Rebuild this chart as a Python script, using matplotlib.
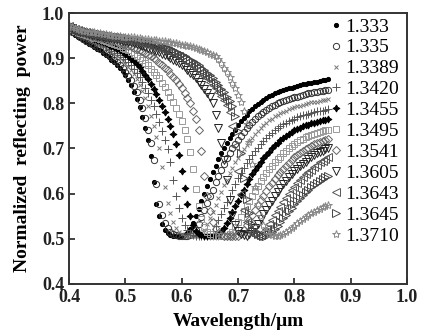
import matplotlib
matplotlib.use("Agg")
import matplotlib.pyplot as plt
import numpy as np

plt.rcParams['font.family'] = ['Liberation Serif', 'DejaVu Serif']

# wavelength grid of the measurement (um)
wavelength = np.round(np.arange(0.400, 0.8601, 0.005), 3)

labels = ['1.333', '1.335', '1.3389', '1.3420', '1.3455', '1.3495',
          '1.3541', '1.3605', '1.3643', '1.3645', '1.3710']

r_1333 = [0.962, 0.957, 0.952, 0.948, 0.944, 0.940, 0.936, 0.932, 0.929, 0.925,
          0.921, 0.917, 0.912, 0.907, 0.902, 0.897, 0.891, 0.885, 0.879, 0.871,
          0.862, 0.852, 0.840, 0.826, 0.810, 0.791, 0.770, 0.746, 0.718, 0.683,
          0.625, 0.578, 0.550, 0.532, 0.520, 0.513, 0.509, 0.507, 0.506, 0.506,
          0.507, 0.509, 0.513, 0.521, 0.535, 0.551, 0.567, 0.584, 0.600, 0.616,
          0.632, 0.647, 0.662, 0.676, 0.689, 0.701, 0.712, 0.723, 0.733, 0.742,
          0.751, 0.760, 0.768, 0.775, 0.782, 0.788, 0.794, 0.799, 0.804, 0.808,
          0.812, 0.816, 0.819, 0.822, 0.825, 0.827, 0.829, 0.831, 0.833, 0.835,
          0.837, 0.839, 0.840, 0.842, 0.843, 0.845, 0.846, 0.847, 0.848, 0.850,
          0.851, 0.852, 0.853]
r_1335 = [0.964, 0.959, 0.955, 0.951, 0.947, 0.943, 0.939, 0.936, 0.932, 0.929,
          0.925, 0.921, 0.917, 0.912, 0.907, 0.902, 0.897, 0.891, 0.885, 0.878,
          0.870, 0.861, 0.851, 0.839, 0.825, 0.808, 0.789, 0.767, 0.742, 0.713,
          0.675, 0.622, 0.578, 0.552, 0.535, 0.523, 0.515, 0.510, 0.508, 0.507,
          0.506, 0.506, 0.507, 0.509, 0.513, 0.520, 0.533, 0.548, 0.563, 0.579,
          0.594, 0.609, 0.625, 0.639, 0.653, 0.666, 0.678, 0.689, 0.700, 0.710,
          0.719, 0.728, 0.736, 0.745, 0.752, 0.759, 0.766, 0.771, 0.777, 0.781,
          0.786, 0.790, 0.794, 0.797, 0.800, 0.803, 0.806, 0.808, 0.810, 0.812,
          0.813, 0.815, 0.817, 0.819, 0.820, 0.822, 0.823, 0.825, 0.826, 0.827,
          0.828, 0.829, 0.830]
r_13389 = [0.965, 0.961, 0.957, 0.953, 0.950, 0.947, 0.944, 0.941, 0.938, 0.935,
           0.932, 0.929, 0.926, 0.922, 0.918, 0.914, 0.910, 0.905, 0.900, 0.894,
           0.888, 0.881, 0.873, 0.864, 0.853, 0.841, 0.827, 0.811, 0.793, 0.772,
           0.750, 0.725, 0.700, 0.660, 0.615, 0.580, 0.556, 0.538, 0.524, 0.515,
           0.510, 0.507, 0.506, 0.506, 0.506, 0.506, 0.507, 0.512, 0.519, 0.532,
           0.546, 0.560, 0.575, 0.590, 0.604, 0.618, 0.631, 0.645, 0.657, 0.669,
           0.679, 0.689, 0.699, 0.708, 0.716, 0.724, 0.732, 0.739, 0.745, 0.751,
           0.757, 0.762, 0.766, 0.771, 0.774, 0.778, 0.781, 0.784, 0.787, 0.789,
           0.791, 0.793, 0.795, 0.796, 0.798, 0.800, 0.802, 0.803, 0.804, 0.805,
           0.807, 0.808, 0.809]
r_13420 = [0.966, 0.962, 0.958, 0.955, 0.952, 0.949, 0.946, 0.944, 0.941, 0.939,
           0.936, 0.933, 0.930, 0.927, 0.924, 0.920, 0.916, 0.912, 0.908, 0.903,
           0.898, 0.892, 0.885, 0.877, 0.868, 0.858, 0.847, 0.835, 0.822, 0.808,
           0.793, 0.776, 0.758, 0.739, 0.719, 0.699, 0.670, 0.630, 0.595, 0.568,
           0.546, 0.530, 0.519, 0.512, 0.509, 0.507, 0.506, 0.506, 0.506, 0.507,
           0.511, 0.517, 0.528, 0.541, 0.554, 0.569, 0.582, 0.595, 0.609, 0.621,
           0.634, 0.645, 0.656, 0.667, 0.676, 0.685, 0.694, 0.701, 0.709, 0.716,
           0.723, 0.729, 0.735, 0.740, 0.745, 0.749, 0.754, 0.757, 0.760, 0.764,
           0.766, 0.769, 0.771, 0.774, 0.775, 0.777, 0.779, 0.780, 0.782, 0.784,
           0.784, 0.786, 0.787]
r_13455 = [0.967, 0.963, 0.960, 0.957, 0.954, 0.951, 0.949, 0.947, 0.945, 0.943,
           0.941, 0.938, 0.936, 0.933, 0.930, 0.927, 0.924, 0.921, 0.917, 0.913,
           0.909, 0.904, 0.899, 0.893, 0.887, 0.880, 0.872, 0.863, 0.853, 0.843,
           0.832, 0.820, 0.808, 0.795, 0.781, 0.766, 0.750, 0.732, 0.710, 0.685,
           0.650, 0.612, 0.578, 0.550, 0.530, 0.518, 0.511, 0.508, 0.507, 0.506,
           0.506, 0.506, 0.507, 0.507, 0.514, 0.523, 0.534, 0.546, 0.559, 0.572,
           0.584, 0.597, 0.609, 0.621, 0.633, 0.643, 0.653, 0.662, 0.670, 0.679,
           0.686, 0.693, 0.700, 0.707, 0.713, 0.718, 0.723, 0.728, 0.732, 0.736,
           0.740, 0.743, 0.746, 0.749, 0.751, 0.753, 0.756, 0.757, 0.759, 0.761,
           0.762, 0.764, 0.765]
r_13495 = [0.968, 0.964, 0.961, 0.958, 0.956, 0.953, 0.951, 0.949, 0.947, 0.945,
           0.944, 0.942, 0.940, 0.938, 0.936, 0.934, 0.931, 0.929, 0.926, 0.923,
           0.920, 0.917, 0.913, 0.909, 0.905, 0.900, 0.895, 0.890, 0.884, 0.877,
           0.870, 0.863, 0.855, 0.846, 0.836, 0.826, 0.815, 0.803, 0.790, 0.776,
           0.760, 0.742, 0.720, 0.693, 0.655, 0.610, 0.572, 0.544, 0.526, 0.516,
           0.510, 0.507, 0.506, 0.506, 0.506, 0.506, 0.507, 0.511, 0.516, 0.525,
           0.537, 0.548, 0.561, 0.572, 0.584, 0.595, 0.606, 0.617, 0.627, 0.637,
           0.646, 0.654, 0.662, 0.669, 0.676, 0.682, 0.689, 0.695, 0.701, 0.706,
           0.710, 0.714, 0.718, 0.722, 0.725, 0.727, 0.730, 0.732, 0.735, 0.737,
           0.739, 0.740, 0.742]
r_13541 = [0.969, 0.965, 0.962, 0.960, 0.957, 0.955, 0.953, 0.951, 0.950, 0.948,
           0.947, 0.945, 0.944, 0.942, 0.941, 0.939, 0.937, 0.935, 0.933, 0.931,
           0.930, 0.928, 0.926, 0.923, 0.921, 0.918, 0.915, 0.912, 0.908, 0.904,
           0.900, 0.895, 0.890, 0.885, 0.879, 0.873, 0.866, 0.859, 0.851, 0.842,
           0.833, 0.823, 0.812, 0.800, 0.784, 0.765, 0.740, 0.695, 0.640, 0.595,
           0.562, 0.538, 0.522, 0.513, 0.509, 0.507, 0.506, 0.506, 0.506, 0.506,
           0.507, 0.513, 0.520, 0.530, 0.541, 0.552, 0.563, 0.574, 0.585, 0.595,
           0.605, 0.616, 0.624, 0.633, 0.641, 0.648, 0.655, 0.662, 0.668, 0.674,
           0.680, 0.685, 0.690, 0.694, 0.698, 0.702, 0.705, 0.709, 0.711, 0.714,
           0.716, 0.718, 0.720]
r_13605 = [0.970, 0.966, 0.963, 0.961, 0.959, 0.957, 0.955, 0.954, 0.952, 0.951,
           0.950, 0.949, 0.948, 0.946, 0.945, 0.944, 0.943, 0.942, 0.940, 0.939,
           0.938, 0.936, 0.935, 0.933, 0.931, 0.929, 0.927, 0.925, 0.923, 0.921,
           0.918, 0.916, 0.913, 0.910, 0.907, 0.904, 0.900, 0.897, 0.893, 0.889,
           0.885, 0.880, 0.874, 0.868, 0.862, 0.855, 0.848, 0.840, 0.832, 0.823,
           0.813, 0.800, 0.775, 0.745, 0.712, 0.675, 0.630, 0.585, 0.552, 0.530,
           0.517, 0.510, 0.508, 0.507, 0.510, 0.515, 0.523, 0.533, 0.543, 0.554,
           0.564, 0.574, 0.584, 0.594, 0.604, 0.612, 0.621, 0.629, 0.636, 0.643,
           0.649, 0.655, 0.661, 0.666, 0.671, 0.677, 0.681, 0.685, 0.689, 0.692,
           0.695, 0.698, 0.700]
r_13643 = [0.971, 0.967, 0.964, 0.962, 0.960, 0.958, 0.957, 0.955, 0.954, 0.953,
           0.952, 0.951, 0.950, 0.949, 0.948, 0.947, 0.946, 0.945, 0.944, 0.943,
           0.942, 0.941, 0.940, 0.938, 0.937, 0.936, 0.934, 0.933, 0.931, 0.929,
           0.927, 0.925, 0.923, 0.921, 0.918, 0.916, 0.913, 0.910, 0.907, 0.904,
           0.900, 0.896, 0.892, 0.888, 0.883, 0.878, 0.873, 0.867, 0.861, 0.855,
           0.848, 0.841, 0.833, 0.825, 0.816, 0.807, 0.796, 0.780, 0.750, 0.705,
           0.650, 0.600, 0.563, 0.537, 0.520, 0.512, 0.508, 0.507, 0.508, 0.514,
           0.522, 0.532, 0.541, 0.552, 0.561, 0.571, 0.581, 0.590, 0.599, 0.607,
           0.615, 0.623, 0.630, 0.636, 0.643, 0.648, 0.653, 0.659, 0.664, 0.669,
           0.673, 0.676, 0.680]
r_13645 = [0.972, 0.968, 0.965, 0.963, 0.961, 0.960, 0.958, 0.957, 0.956, 0.955,
           0.954, 0.953, 0.952, 0.951, 0.950, 0.949, 0.948, 0.947, 0.946, 0.945,
           0.944, 0.943, 0.942, 0.941, 0.940, 0.939, 0.938, 0.936, 0.935, 0.933,
           0.932, 0.930, 0.928, 0.926, 0.924, 0.922, 0.920, 0.917, 0.914, 0.911,
           0.908, 0.905, 0.901, 0.897, 0.893, 0.889, 0.884, 0.879, 0.874, 0.868,
           0.862, 0.855, 0.848, 0.840, 0.832, 0.824, 0.815, 0.806, 0.793, 0.772,
           0.738, 0.690, 0.635, 0.588, 0.556, 0.533, 0.518, 0.511, 0.508, 0.507,
           0.507, 0.510, 0.514, 0.521, 0.529, 0.537, 0.545, 0.553, 0.561, 0.569,
           0.576, 0.584, 0.591, 0.597, 0.603, 0.609, 0.614, 0.619, 0.624, 0.628,
           0.632, 0.636, 0.640]
r_13710 = [0.974, 0.970, 0.967, 0.965, 0.963, 0.961, 0.960, 0.959, 0.958, 0.957,
           0.956, 0.955, 0.954, 0.953, 0.952, 0.951, 0.950, 0.950, 0.949, 0.948,
           0.948, 0.947, 0.946, 0.946, 0.945, 0.944, 0.943, 0.943, 0.942, 0.941,
           0.940, 0.940, 0.939, 0.938, 0.937, 0.936, 0.935, 0.934, 0.933, 0.932,
           0.930, 0.929, 0.927, 0.926, 0.924, 0.922, 0.920, 0.918, 0.916, 0.913,
           0.910, 0.908, 0.905, 0.898, 0.889, 0.879, 0.869, 0.858, 0.846, 0.833,
           0.818, 0.802, 0.782, 0.755, 0.715, 0.665, 0.615, 0.578, 0.550, 0.530,
           0.518, 0.511, 0.508, 0.507, 0.507, 0.509, 0.511, 0.515, 0.520, 0.524,
           0.529, 0.534, 0.539, 0.543, 0.548, 0.552, 0.556, 0.560, 0.563, 0.566,
           0.570, 0.573, 0.575]

curves = [r_1333, r_1335, r_13389, r_13420, r_13455, r_13495,
          r_13541, r_13605, r_13643, r_13645, r_13710]

# marker, size, edge colour, face colour
styles = [('o', 3.0, 'black', 'black'),
          ('o', 4.5, '#333333', 'none'),
          ('x', 3.5, '#777777', 'none'),
          ('+', 5.5, '#555555', 'none'),
          ((4, 1, 0), 5.0, 'black', 'black'),
          ('s', 5.0, '#999999', 'none'),
          ('D', 4.0, '#666666', 'none'),
          ('v', 5.5, '#222222', 'none'),
          ('<', 5.5, '#555555', 'none'),
          ('>', 5.5, '#444444', 'none'),
          ('*', 6.0, '#888888', 'none')]

fig = plt.figure(figsize=(4.24, 3.34), dpi=100)
ax = fig.add_axes([0.163, 0.150, 0.797, 0.811])

for r, lab, (m, ms, ec, fc) in zip(curves, labels, styles):
    ax.plot(wavelength, r, linestyle='none', marker=m, markersize=ms,
            markeredgecolor=ec, markerfacecolor=fc, markeredgewidth=0.7,
            label=lab)

ax.set_xlim(0.4, 1.0)
ax.set_ylim(0.4, 1.0)
ax.set_xticks(np.arange(0.4, 1.01, 0.1))
ax.set_yticks(np.arange(0.4, 1.01, 0.1))
ax.xaxis.set_major_formatter(plt.FormatStrFormatter('%.1f'))
ax.yaxis.set_major_formatter(plt.FormatStrFormatter('%.1f'))
ax.tick_params(direction='in', length=4, width=1.2, labelsize=13,
               colors='#222222', top=False, right=False)
for lbl in ax.get_xticklabels() + ax.get_yticklabels():
    lbl.set_fontweight('bold')
for sp in ax.spines.values():
    sp.set_linewidth(1.4)
    sp.set_color('#333333')

ax.set_xlabel('Wavelength/\u03bcm', fontsize=14, fontweight='bold', labelpad=5)
ax.set_ylabel('Normalized  reflecting  power', fontsize=14, fontweight='bold',
              labelpad=8)

ax.legend(loc='upper right', bbox_to_anchor=(1.01, 1.025), frameon=False,
          fontsize=14, handlelength=0.5, handletextpad=0.2,
          labelspacing=0.17, borderaxespad=0.2, numpoints=1)

fig.savefig('out.png', dpi=100)
